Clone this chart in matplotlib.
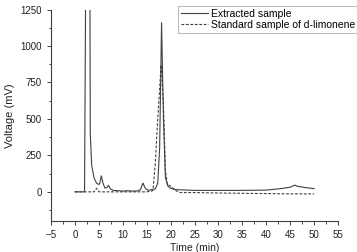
import matplotlib.pyplot as plt
from matplotlib.ticker import MultipleLocator

plt.rcParams['font.family'] = ['Liberation Sans', 'DejaVu Sans']

# extracted sample (solid)
ext_t = [0, 1.5, 2.0, 2.2, 2.4, 3.0, 3.2, 3.5, 4.0, 4.5, 5.0, 5.2, 5.5, 5.9, 6.3, 6.7, 7.0, 7.4, 8.0,
         9, 10, 11, 12, 13, 13.7, 14.2, 14.7, 15.3, 16, 16.8, 17.3, 17.7, 18.1, 18.5, 18.9, 19.4,
         20, 21, 25, 30, 35, 40, 43, 45, 45.5, 46, 46.5, 48, 50]
ext_v = [0, 0, 0, 1200, 3000, 3000, 400, 180, 95, 60, 50, 60, 110, 55, 25, 30, 45, 20, 10,
         8, 5, 8, 5, 6, 15, 60, 25, 10, 15, 20, 60, 300, 1160, 500, 100, 40,
         25, 15, 10, 10, 10, 12, 22, 32, 40, 46, 38, 30, 22]

# standard sample of d-limonene (dashed)
std_t = [0, 4.0, 4.5, 5.0, 6, 10, 15, 16.0, 16.3, 16.8, 17.3, 18.0, 18.5, 18.9, 19.3, 20, 21, 22,
         25, 30, 35, 40, 45, 50]
std_v = [0, 0, 25, 0, 0, 0, 0, 5, 10, 200, 500, 870, 600, 150, 50, 40, 10, -5,
         -5, -8, -10, -12, -14, -14]

fig = plt.figure(figsize=(3.57, 2.52), dpi=100)
ax = fig.add_axes([0.143, 0.123, 0.804, 0.839])

ax.plot(ext_t, ext_v, color='#404040', lw=0.8, label='Extracted sample')
ax.plot(std_t, std_v, color='#404040', lw=0.8, ls=(0, (2.5, 1.5)),
        label='Standard sample of d-limonene')

ax.set_xlim(-5, 55)
ax.set_ylim(-200, 1250)
ax.xaxis.set_major_locator(MultipleLocator(5))
ax.xaxis.set_minor_locator(MultipleLocator(2.5))
ax.yaxis.set_major_locator(MultipleLocator(250))
ax.yaxis.set_minor_locator(MultipleLocator(125))
ax.set_yticks([0, 250, 500, 750, 1000, 1250])

ax.spines['top'].set_visible(False)
ax.spines['right'].set_visible(False)
for s in ['left', 'bottom']:
    ax.spines[s].set_color('#404040')
    ax.spines[s].set_linewidth(0.8)
ax.tick_params(which='both', direction='out', colors='#404040', labelsize=7,
               labelcolor='#222222', width=0.7)
ax.tick_params(which='major', length=3)
ax.tick_params(which='minor', length=1.8)

ax.set_xlabel('Time (min)', fontsize=7.5, color='#222222', labelpad=2)
ax.set_ylabel('Voltage (mV)', fontsize=8, color='#222222', labelpad=4)

leg = fig.legend(loc='upper left', bbox_to_anchor=(0.499, 0.975), fontsize=7.5,
                 frameon=True, fancybox=False, edgecolor='#999999', handlelength=2.6,
                 handletextpad=0.3, borderpad=0.25, labelspacing=0.1, borderaxespad=0)
leg.get_frame().set_linewidth(0.6)

fig.savefig('out.png', dpi=100)
